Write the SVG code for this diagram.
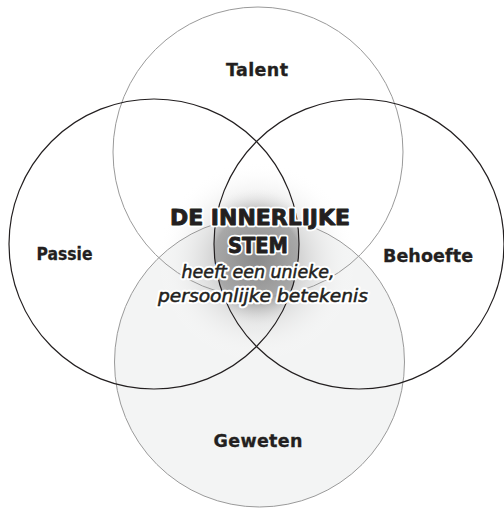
<svg xmlns="http://www.w3.org/2000/svg" width="504" height="509" viewBox="0 0 504 509">
<style>
.lbl{font-family:"DejaVu Sans","Liberation Sans",sans-serif;font-weight:bold;font-size:17.5px;fill:#231f20;text-anchor:middle;stroke:#231f20;stroke-width:0.3px}
.title{font-family:"DejaVu Sans","Liberation Sans",sans-serif;font-weight:bold;font-size:21px;fill:#231f20;text-anchor:middle}
.sub{font-family:"DejaVu Sans","Liberation Sans",sans-serif;font-style:italic;font-size:17px;fill:#231f20;text-anchor:middle}
.halo{stroke:#fff;stroke-width:4.5px;stroke-linejoin:round}
.ink{stroke:#231f20;stroke-width:0.9px;stroke-linejoin:round}
.ink2{stroke:#231f20;stroke-width:0.5px;stroke-linejoin:round}
.gray{fill:none;stroke:#9a9a9a;stroke-width:1}
.black{fill:none;stroke:#231f20;stroke-width:1.2}
</style>
<defs>
<radialGradient id="glow" cx="257" cy="262" r="100" gradientUnits="userSpaceOnUse">
<stop offset="0" stop-color="#b0b0b0" stop-opacity="1"/>
<stop offset="0.45" stop-color="#cccccc" stop-opacity="0.75"/>
<stop offset="1" stop-color="#ffffff" stop-opacity="0"/>
</radialGradient>
<radialGradient id="glow2" cx="257" cy="258" r="72" gradientUnits="userSpaceOnUse">
<stop offset="0" stop-color="#8a8a8a" stop-opacity="1"/>
<stop offset="0.6" stop-color="#a0a0a0" stop-opacity="0.85"/>
<stop offset="1" stop-color="#ffffff" stop-opacity="0"/>
</radialGradient>
<clipPath id="lens">
<circle cx="154" cy="244" r="145"/>
</clipPath>
<clipPath id="lens2">
<circle cx="359" cy="244" r="145"/>
</clipPath>
</defs>
<rect width="504" height="509" fill="#fff"/>
<circle cx="259.5" cy="362" r="145" fill="#f3f4f4"/>
<circle cx="257" cy="262" r="100" fill="url(#glow)"/>
<g clip-path="url(#lens)"><g clip-path="url(#lens2)"><rect x="180" y="150" width="160" height="200" fill="url(#glow2)"/></g></g>
<g id="connectors"></g>
<g id="talent"><circle class="gray" cx="258" cy="152" r="145"/><text class="lbl" x="257" y="76" textLength="62" lengthAdjust="spacing">Talent</text></g>
<g id="geweten"><circle class="gray" cx="259.5" cy="362" r="145"/><text class="lbl" x="258" y="447" textLength="89" lengthAdjust="spacing">Geweten</text></g>
<g id="passie"><circle class="black" cx="154" cy="244" r="145"/><text class="lbl" x="64.5" y="260" textLength="56" lengthAdjust="spacingAndGlyphs">Passie</text></g>
<g id="behoefte"><circle class="black" cx="359" cy="244" r="145"/><text class="lbl" x="428" y="262" textLength="90" lengthAdjust="spacing">Behoefte</text></g>
<g id="center">
<g class="halo">
<text class="title" x="260" y="225" textLength="180" lengthAdjust="spacingAndGlyphs">DE INNERLIJKE</text>
<text class="title" x="258" y="253" textLength="60" lengthAdjust="spacingAndGlyphs">STEM</text>
<text class="sub" x="258" y="278" textLength="153" lengthAdjust="spacingAndGlyphs">heeft een unieke,</text>
<text class="sub" x="263" y="302" textLength="210" lengthAdjust="spacingAndGlyphs">persoonlijke betekenis</text>
</g>
<g class="ink">
<text class="title" x="260" y="225" textLength="180" lengthAdjust="spacingAndGlyphs">DE INNERLIJKE</text>
<text class="title" x="258" y="253" textLength="60" lengthAdjust="spacingAndGlyphs">STEM</text>
</g>
<g class="ink2">
<text class="sub" x="258" y="278" textLength="153" lengthAdjust="spacingAndGlyphs">heeft een unieke,</text>
<text class="sub" x="263" y="302" textLength="210" lengthAdjust="spacingAndGlyphs">persoonlijke betekenis</text>
</g>
</g>
</svg>
